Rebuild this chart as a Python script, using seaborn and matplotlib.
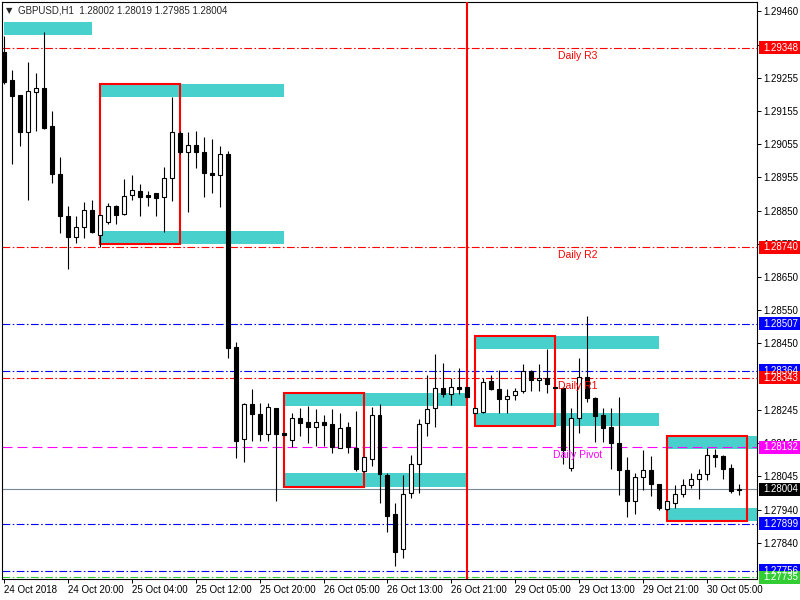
import numpy as np
import pandas as pd
import matplotlib
matplotlib.use("Agg")
import matplotlib.pyplot as plt
import matplotlib.transforms as mtransforms
from matplotlib.patches import Rectangle
import seaborn as sns

# GBPUSD H1 candles, 24 Oct 12:00 -> 30 Oct 09:00
opens = [1.29335, 1.29250, 1.29204, 1.29092, 1.29213, 1.29226, 1.29110, 1.28964, 1.28836, 1.28772,
         1.28802, 1.28854, 1.28778, 1.28818, 1.28866, 1.28842, 1.28900, 1.28912, 1.28900, 1.28906,
         1.28894, 1.28952, 1.29089, 1.29031, 1.29052, 1.29031, 1.28967, 1.28961, 1.29025, 1.28437,
         1.28157, 1.28263, 1.28233, 1.28172, 1.28251, 1.28175, 1.28154, 1.28221, 1.28209, 1.28194,
         1.28209, 1.28203, 1.28130, 1.28194, 1.28130, 1.28059, 1.28096, 1.28230, 1.28047, 1.27928,
         1.27822, 1.27992, 1.28081, 1.28206, 1.28251, 1.28312, 1.28294, 1.28315, 1.28315, 1.28236,
         1.28239, 1.28333, 1.28309, 1.28279, 1.28291, 1.28303, 1.28364, 1.28336, 1.28343, 1.28315,
         1.28312, 1.28068, 1.28221, 1.28346, 1.28282, 1.28230, 1.28194, 1.28146, 1.28062, 1.27968,
         1.28041, 1.28062, 1.28020, 1.27944, 1.27962, 1.27989, 1.28017, 1.28035, 1.28050, 1.28108,
         1.28105, 1.28068, 1.28002]
highs = [1.29384, 1.29280, 1.29204, 1.29305, 1.29271, 1.29396, 1.29156, 1.29015, 1.28866, 1.28836,
         1.28878, 1.28885, 1.28839, 1.28875, 1.28869, 1.28948, 1.28961, 1.28933, 1.28912, 1.28906,
         1.28985, 1.29198, 1.29095, 1.29092, 1.29095, 1.29076, 1.29070, 1.29049, 1.29034, 1.28452,
         1.28266, 1.28309, 1.28266, 1.28266, 1.28251, 1.28175, 1.28236, 1.28251, 1.28257, 1.28248,
         1.28230, 1.28248, 1.28236, 1.28209, 1.28242, 1.28102, 1.28254, 1.28263, 1.28053, 1.27962,
         1.28047, 1.28108, 1.28218, 1.28352, 1.28416, 1.28388, 1.28343, 1.28373, 1.28315, 1.28251,
         1.28343, 1.28352, 1.28367, 1.28309, 1.28312, 1.28385, 1.28367, 1.28385, 1.28431, 1.28315,
         1.28312, 1.28251, 1.28403, 1.28531, 1.28285, 1.28251, 1.28251, 1.28285, 1.28102, 1.28053,
         1.28123, 1.28105, 1.28020, 1.27968, 1.28017, 1.28035, 1.28053, 1.28065, 1.28130, 1.28126,
         1.28108, 1.28081, 1.28019]
lows = [1.29238, 1.28994, 1.29049, 1.28885, 1.29095, 1.29100, 1.28936, 1.28784, 1.28674, 1.28754,
        1.28769, 1.28784, 1.28741, 1.28811, 1.28811, 1.28840, 1.28885, 1.28836, 1.28866, 1.28836,
        1.28787, 1.28882, 1.29025, 1.28848, 1.28982, 1.28894, 1.28906, 1.28863, 1.28403, 1.28099,
        1.28087, 1.28151, 1.28151, 1.28151, 1.27968, 1.28169, 1.28133, 1.28166, 1.28146, 1.28136,
        1.28136, 1.28114, 1.28128, 1.28114, 1.28059, 1.28056, 1.28075, 1.27962, 1.27874, 1.27770,
        1.27794, 1.27977, 1.27992, 1.28166, 1.28194, 1.28285, 1.28260, 1.28294, 1.28285, 1.28236,
        1.28236, 1.28306, 1.28236, 1.28236, 1.28276, 1.28297, 1.28303, 1.28303, 1.28297, 1.28312,
        1.28081, 1.28059, 1.28175, 1.28269, 1.28148, 1.28148, 1.28065, 1.27986, 1.27919, 1.27928,
        1.28002, 1.27983, 1.27941, 1.27941, 1.27947, 1.27980, 1.28008, 1.27974, 1.28032, 1.28071,
        1.28035, 1.27992, 1.27985]
closes = [1.29244, 1.29201, 1.29092, 1.29216, 1.29226, 1.29104, 1.28964, 1.28836, 1.28772, 1.28802,
          1.28854, 1.28787, 1.28839, 1.28866, 1.28839, 1.28897, 1.28915, 1.28894, 1.28894, 1.28891,
          1.28952, 1.29092, 1.29031, 1.29052, 1.29031, 1.28967, 1.28961, 1.29025, 1.28434, 1.28151,
          1.28263, 1.28233, 1.28172, 1.28254, 1.28172, 1.28169, 1.28221, 1.28206, 1.28194, 1.28209,
          1.28200, 1.28133, 1.28191, 1.28133, 1.28065, 1.28102, 1.28230, 1.28050, 1.27922, 1.27813,
          1.27989, 1.28081, 1.28203, 1.28248, 1.28312, 1.28294, 1.28315, 1.28309, 1.28285, 1.28251,
          1.28330, 1.28309, 1.28279, 1.28288, 1.28303, 1.28364, 1.28336, 1.28343, 1.28324, 1.28312,
          1.28123, 1.28221, 1.28346, 1.28282, 1.28227, 1.28191, 1.28146, 1.28062, 1.27968, 1.28041,
          1.28062, 1.28020, 1.27947, 1.27968, 1.27989, 1.28017, 1.28035, 1.28050, 1.28108, 1.28102,
          1.28065, 1.27998, 1.28004]

time_labels = ["24 Oct 2018", "24 Oct 20:00", "25 Oct 04:00", "25 Oct 12:00", "25 Oct 20:00",
               "26 Oct 05:00", "26 Oct 13:00", "26 Oct 21:00", "29 Oct 05:00", "29 Oct 13:00",
               "29 Oct 21:00", "30 Oct 05:00"]
time_label_bars = [0, 8, 16, 24, 32, 40, 48, 56, 64, 72, 80, 88]

price_ticks = [1.29460, 1.29355, 1.29255, 1.29155, 1.29055, 1.28955, 1.28850, 1.28750, 1.28650,
               1.28550, 1.28450, 1.28245, 1.28145, 1.28045, 1.27940, 1.27840]

# supply / demand zones (cyan)
zone_start = [0, 12, 12, 35, 35, 59, 59, 83, 83]
zone_end = [11, 35, 35, 58, 58, 82, 82, 95, 95]
zone_top = [1.29427, 1.29238, 1.28790, 1.28297, 1.28053, 1.28470, 1.28236, 1.28166, 1.27947]
zone_bottom = [1.29387, 1.29198, 1.28751, 1.28257, 1.28011, 1.28431, 1.28196, 1.28126, 1.27907]

# red range boxes
box_start = [12, 35, 59, 83]
box_end = [22, 45, 69, 93]
box_top = [1.29238, 1.28297, 1.28470, 1.28166]
box_bottom = [1.28751, 1.28011, 1.28196, 1.27907]

# horizontal levels
level_values = [1.29348, 1.28740, 1.28507, 1.28364, 1.28343, 1.28132, 1.28004, 1.27899, 1.27756, 1.27735]
level_kind = ["red", "red", "blue", "blue", "red", "pivot", "price", "blue", "blue", "green"]
pivot_names = ["Daily R3", "Daily R2", "Daily R1", "Daily Pivot"]
pivot_values = [1.29348, 1.28740, 1.28343, 1.28132]

session_bar = 58
header = "GBPUSD,H1  1.28002 1.28019 1.27985 1.28004"

sns.set_style("ticks")
plt.rcParams["font.family"] = ["Liberation Sans", "DejaVu Sans"]

fig = plt.figure(figsize=(8, 6), dpi=100)
ax = fig.add_axes([2 / 800, 21 / 600, 755 / 800, 577 / 600])

df = pd.DataFrame({"open": opens, "high": highs, "low": lows, "close": closes})
df["x"] = np.arange(len(df))
up = df["close"] >= df["open"]
body_bottom = df[["open", "close"]].min(axis=1)
body_h = (df["close"] - df["open"]).abs().clip(lower=0.00003)

# zones
for s, e, t, b in zip(zone_start, zone_end, zone_top, zone_bottom):
    ax.add_patch(Rectangle((s, b), e - s, t - b, facecolor="#48D1CC", edgecolor="none", zorder=1))

# levels
dashdot = (0, (7, 2.2, 1.4, 2.2))
styles = {
    "red": dict(color="#FF0000", ls=dashdot),
    "blue": dict(color="#0000FF", ls=dashdot),
    "green": dict(color="#32CD32", ls=dashdot),
    "pivot": dict(color="#FF00FF", ls=(0, (9, 4.5))),
    "price": dict(color="#778899", ls="-"),
}
for v, k in zip(level_values, level_kind):
    ax.axhline(v, lw=0.8, zorder=2, **styles[k])

ax.axvline(session_bar, color="#FF0000", lw=1.5, zorder=3)

for s, e, t, b in zip(box_start, box_end, box_top, box_bottom):
    ax.add_patch(Rectangle((s, b), e - s, t - b, facecolor="none", edgecolor="#FF0000", lw=1.5, zorder=4))

# candles
ax.vlines(df["x"], df["low"], df["high"], color="black", lw=0.8, zorder=6)
ax.bar(df["x"][up], body_h[up], bottom=body_bottom[up], width=0.5,
       color="white", edgecolor="black", lw=0.8, zorder=7)
ax.bar(df["x"][~up], body_h[~up], bottom=body_bottom[~up], width=0.5,
       color="black", edgecolor="black", lw=0.8, zorder=7)

# pivot names
for name, v in zip(pivot_names, pivot_values):
    col = "#FF00FF" if "Pivot" in name else "#FF0000"
    ax.annotate(name, (71.8, v), xytext=(0, -2), textcoords="offset points",
                ha="center", va="top", color=col, fontsize=7.5, zorder=12)

ax.set_xlim(-0.19, 94.19)
ax.set_ylim(1.277304, 1.294874)

ax.yaxis.tick_right()
ax.set_yticks(price_ticks)
ax.set_yticklabels([f"{p:.5f}" for p in price_ticks])
ax.set_xticks(time_label_bars)
ax.set_xticklabels(time_labels)
for lab in ax.get_xticklabels():
    lab.set_ha("left")
ax.tick_params(axis="both", direction="out", length=3, width=0.7, labelsize=7, pad=1.5, colors="black")
for sp in ax.spines.values():
    sp.set_visible(True)
    sp.set_color("black")
    sp.set_linewidth(0.8)

# price labels on the right scale
trans = mtransforms.blended_transform_factory(ax.transAxes, ax.transData)
box_colors = {"red": "#FF0000", "blue": "#0000FF", "green": "#32CD32", "pivot": "#FF00FF", "price": "#000000"}
hh = 13 / 32840
for v, k in zip(level_values, level_kind):
    ax.add_patch(Rectangle((757 / 755, v - hh / 2), 42 / 755, hh, transform=trans,
                           facecolor=box_colors[k], edgecolor="none", clip_on=False, zorder=10))
    ax.text(761 / 755, v, f"{v:.5f}", transform=trans, color="white", fontsize=7,
            va="center", ha="left", clip_on=False, zorder=11)

fig.text(6 / 800, 1 - 10.5 / 600, "\u25bc", fontsize=6, va="center", ha="left",
         family=["DejaVu Sans"])
fig.text(18 / 800, 1 - 10.5 / 600, header, fontsize=7, va="center", ha="left")

fig.savefig("out.png", dpi=100, facecolor="white")
